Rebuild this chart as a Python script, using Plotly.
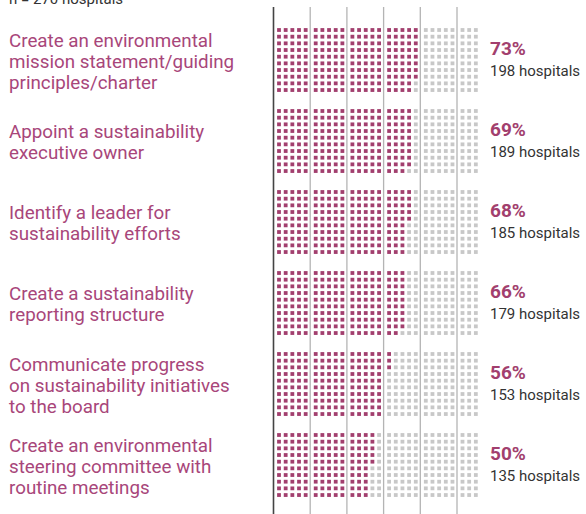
import plotly.graph_objects as go

# データ
labels = [
    "Create an environmental<br>mission statement/guiding<br>principles/charter",
    "Appoint a sustainability<br>executive owner",
    "Identify a leader for<br>sustainability efforts",
    "Create a sustainability<br>reporting structure",
    "Communicate progress<br>on sustainability initiatives<br>to the board",
    "Create an environmental<br>steering committee with<br>routine meetings",
]
percents = ["73%", "69%", "68%", "66%", "56%", "50%"]
hospitals = [198, 189, 185, 179, 153, 135]
n_total = 270

PURPLE = "#A23F6E"
LABEL_PURPLE = "#A8467A"
GRAY = "#C8C8C8"
FONT = "Roboto"

# ワッフルの配置（ピクセル単位の軸）
n_rows = 10
n_cols = 28
col_per_block = 5
pitch = 6.67
block_pitch = 36.7
x0 = 279
y0 = 30
group_pitch = 81
line_gap = 21

fig = go.Figure()

xs_on, ys_on, xs_off, ys_off = [], [], [], []
for g, h in enumerate(hospitals):
    for c in range(n_cols):
        b, cc = divmod(c, col_per_block)
        for r in range(n_rows):
            idx = c * n_rows + r
            x = x0 + b * block_pitch + cc * pitch
            y = y0 + g * group_pitch + r * pitch
            if idx < h:
                xs_on.append(x); ys_on.append(y)
            else:
                xs_off.append(x); ys_off.append(y)

fig.add_trace(go.Scatter(x=xs_off, y=ys_off, mode="markers",
                         marker=dict(symbol="square", size=3.8, color=GRAY, line_width=0),
                         hoverinfo="skip"))
fig.add_trace(go.Scatter(x=xs_on, y=ys_on, mode="markers",
                         marker=dict(symbol="square", size=3.8, color=PURPLE, line_width=0),
                         hoverinfo="skip"))

# 区切り線
for b in range(6):
    xl = x0 + b * block_pitch - 5.5
    fig.add_shape(type="line", x0=xl, x1=xl, y0=7, y1=520,
                  line=dict(color="#444444" if b == 0 else "#B4B4B4",
                            width=1.6 if b == 0 else 1.3))

# テキスト（行ごとに配置して行間を詰める）
for g, (lab, p, h) in enumerate(zip(labels, percents, hospitals)):
    yc = y0 + g * group_pitch + (n_rows - 1) * pitch / 2
    lines = lab.split("<br>")
    top = yc + 1.5 - (len(lines) - 1) * line_gap / 2
    for i, ln in enumerate(lines):
        fig.add_annotation(x=7, y=top + i * line_gap, text=ln, showarrow=False,
                           xanchor="left", yanchor="middle",
                           font=dict(family=FONT, size=18.8, color=LABEL_PURPLE))
    fig.add_annotation(x=488, y=yc - 12, text=f"<b>{p}</b>", showarrow=False,
                       xanchor="left", yanchor="middle",
                       font=dict(family=FONT, size=19, color=PURPLE))
    fig.add_annotation(x=488, y=yc + 11, text=f"{h} hospitals", showarrow=False,
                       xanchor="left", yanchor="middle",
                       font=dict(family=FONT, size=15, color="#333333"))

# 上端で切れている注記（軸範囲外なので paper 座標）
fig.add_annotation(x=7 / 586, y=1 + 1 / 514, xref="paper", yref="paper",
                   text=f"n = {n_total} hospitals", showarrow=False,
                   xanchor="left", yanchor="middle",
                   font=dict(family=FONT, size=15, color="#333333"))

fig.update_layout(
    width=586, height=514,
    margin=dict(l=0, r=0, t=0, b=0),
    paper_bgcolor="white", plot_bgcolor="white",
    showlegend=False,
    xaxis=dict(range=[0, 586], visible=False, fixedrange=True),
    yaxis=dict(range=[514, 0], visible=False, fixedrange=True),
)

fig.write_html("out.html", config={"displayModeBar": False},
               post_script="document.body.style.margin='0px';")
